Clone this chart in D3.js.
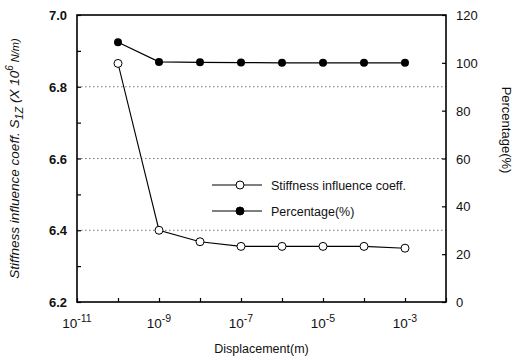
<!DOCTYPE html>
<html>
<head>
<meta charset="utf-8">
<script src="https://cdn.jsdelivr.net/npm/d3@7"></script>
<style>
  body { margin: 0; background: #fff; }
  text { font-family: "Liberation Sans", Arial, sans-serif; fill: #111; }
</style>
</head>
<body>
<div id="vis-tag"></div>
<script>
// data
const displacement = [1e-10, 1e-9, 1e-8, 1e-7, 1e-6, 1e-5, 1e-4, 1e-3];
const stiffness = [6.865, 6.40, 6.368, 6.355, 6.355, 6.355, 6.355, 6.35];
const percentage = [108.6, 100.4, 100.2, 100.1, 100, 100, 100, 100];
const xTickExp = [-11, -9, -7, -5, -3];
const leftTicks = [6.2, 6.4, 6.6, 6.8, 7.0];
const rightTicks = [0, 20, 40, 60, 80, 100, 120];
const gridValues = [6.4, 6.6, 6.8];

const width = 513, height = 363;
const margin = { top: 15, right: 67, bottom: 61, left: 77 };

const svg = d3.select("#vis-tag").append("svg")
  .attr("width", width).attr("height", height);

const x = d3.scaleLog().domain([1e-11, 1e-2]).range([margin.left, width - margin.right]);
const y = d3.scaleLinear().domain([6.2, 7.0]).range([height - margin.bottom, margin.top]);
const y2 = d3.scaleLinear().domain([0, 120]).range([height - margin.bottom, margin.top]);

// dotted grid lines
svg.append("g").selectAll("line").data(gridValues).join("line")
  .attr("x1", margin.left).attr("x2", width - margin.right)
  .attr("y1", d => y(d)).attr("y2", d => y(d))
  .attr("stroke", "#555").attr("stroke-width", 0.8)
  .attr("stroke-dasharray", "1.5,2.5");

// frame
svg.append("rect")
  .attr("x", margin.left).attr("y", margin.top)
  .attr("width", width - margin.left - margin.right)
  .attr("height", height - margin.top - margin.bottom)
  .attr("fill", "none").attr("stroke", "#000").attr("stroke-width", 1.6);

// bottom axis: ticks inside, one per decade
const decades = d3.range(-11, -1).map(e => Math.pow(10, e));
svg.append("g")
  .attr("transform", `translate(0,${height - margin.bottom})`)
  .call(d3.axisBottom(x).tickValues(decades).tickSize(-4).tickFormat(""))
  .call(g => g.select(".domain").remove())
  .call(g => g.selectAll("line").attr("stroke-width", 1.2));

const xl = svg.append("g");
xTickExp.forEach(e => {
  const t = xl.append("text")
    .attr("x", x(Math.pow(10, e)))
    .attr("y", height - margin.bottom + 26)
    .attr("text-anchor", "middle")
    .attr("font-size", 13.5);
  t.append("tspan").text("10");
  t.append("tspan").attr("dy", -6).attr("font-size", 10.5).text(String(e));
});

// left axis
svg.append("g")
  .attr("transform", `translate(${margin.left},0)`)
  .call(d3.axisLeft(y).tickValues(d3.range(6.2, 7.01, 0.1)).tickSize(-4).tickFormat(""))
  .call(g => g.select(".domain").remove())
  .call(g => g.selectAll("line").attr("stroke-width", 1.2));
svg.append("g").selectAll("text").data(leftTicks).join("text")
  .attr("x", margin.left - 10).attr("y", d => y(d) + 5)
  .attr("text-anchor", "end").attr("font-size", 13).attr("font-weight", "bold")
  .text(d => d.toFixed(1));

// right axis
svg.append("g")
  .attr("transform", `translate(${width - margin.right},0)`)
  .call(d3.axisRight(y2).tickValues(rightTicks).tickSize(-4).tickFormat(""))
  .call(g => g.select(".domain").remove())
  .call(g => g.selectAll("line").attr("stroke-width", 1.2));
svg.append("g").selectAll("text").data(rightTicks).join("text")
  .attr("x", width - margin.right + 10).attr("y", d => y2(d) + 5)
  .attr("text-anchor", "start").attr("font-size", 13)
  .text(d => d);

// axis titles
svg.append("text")
  .attr("x", (margin.left + width - margin.right) / 2)
  .attr("y", height - 10)
  .attr("text-anchor", "middle").attr("font-size", 12.5)
  .text("Displacement(m)");

const yt = svg.append("text")
  .attr("transform", `translate(19,${(margin.top + height - margin.bottom) / 2}) rotate(-90)`)
  .attr("text-anchor", "middle").attr("font-size", 13.5).attr("font-style", "italic");
yt.append("tspan").text("Stiffness influence coeff.  S");
yt.append("tspan").attr("dy", 4).attr("font-size", 11).text("1Z");
yt.append("tspan").attr("dy", -4).text(" (X 10");
yt.append("tspan").attr("dy", -6).attr("font-size", 10).text("6");
yt.append("tspan").attr("dy", 6).attr("font-size", 11).text(" N/m)");

svg.append("text")
  .attr("transform", `translate(502,130) rotate(90)`)
  .attr("text-anchor", "middle").attr("font-size", 13)
  .text("Percentage(%)");

// series
const pts1 = displacement.map((d, i) => [d, stiffness[i]]);
const pts2 = displacement.map((d, i) => [d, percentage[i]]);

svg.append("path").datum(pts2)
  .attr("fill", "none").attr("stroke", "#000").attr("stroke-width", 1.3)
  .attr("d", d3.line().x(d => x(d[0])).y(d => y2(d[1])));
svg.append("path").datum(pts1)
  .attr("fill", "none").attr("stroke", "#000").attr("stroke-width", 1.1)
  .attr("d", d3.line().x(d => x(d[0])).y(d => y(d[1])));

svg.append("g").selectAll("circle").data(pts2).join("circle")
  .attr("cx", d => x(d[0])).attr("cy", d => y2(d[1])).attr("r", 4)
  .attr("fill", "#000");
svg.append("g").selectAll("circle").data(pts1).join("circle")
  .attr("cx", d => x(d[0])).attr("cy", d => y(d[1])).attr("r", 4)
  .attr("fill", "#fff").attr("stroke", "#000").attr("stroke-width", 1);

// legend
const legend = [
  { label: "Stiffness influence coeff.", fill: "#fff", yPos: 185 },
  { label: "Percentage(%)", fill: "#000", yPos: 211 }
];
const lg = svg.append("g");
legend.forEach(l => {
  lg.append("line").attr("x1", 212).attr("x2", 262).attr("y1", l.yPos).attr("y2", l.yPos)
    .attr("stroke", "#000").attr("stroke-width", 1.1);
  lg.append("circle").attr("cx", 240).attr("cy", l.yPos).attr("r", 4)
    .attr("fill", l.fill).attr("stroke", "#000").attr("stroke-width", 1);
  lg.append("text").attr("x", 271).attr("y", l.yPos + 4.5)
    .attr("font-size", 12.5).text(l.label);
});
</script>
</body>
</html>
